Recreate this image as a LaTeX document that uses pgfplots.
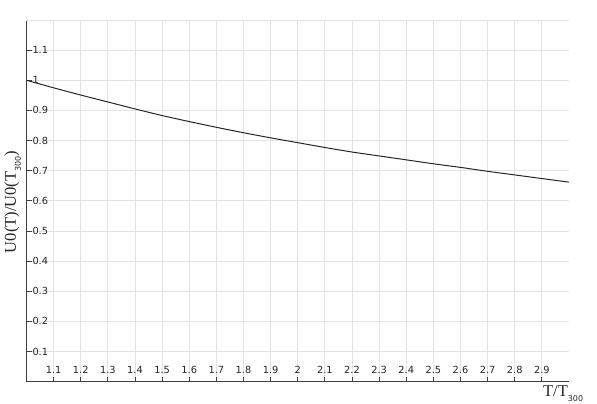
\documentclass[border=0pt]{standalone}
\usepackage{fontspec}
\setmainfont{Liberation Serif}
\newfontfamily\dejavu{DejaVu Sans}
\usepackage{pgfplots}
\pgfplotsset{compat=1.18}

\begin{document}
\begin{tikzpicture}
\begin{axis}[
    scale only axis,
    width=542.5pt, height=361.7pt,
    xmin=1, xmax=3, ymin=0, ymax=1.2,
    axis lines=left,
    axis line style={-, black!75, line width=0.8pt},
    tick align=inside,
    major tick length=5pt,
    tick style={black!75, line width=0.8pt},
    xtick={1.1,1.2,1.3,1.4,1.5,1.6,1.7,1.8,1.9,2,2.1,2.2,2.3,2.4,2.5,2.6,2.7,2.8,2.9},
    ytick={0.1,0.2,0.3,0.4,0.5,0.6,0.7,0.8,0.9,1,1.1},
    extra y ticks={1.2}, extra y tick labels={},
    extra y tick style={major tick length=0pt},
    grid=major,
    grid style={black!11, line width=0.8pt},
    /pgf/number format/assume math mode=true,
    ticklabel style={font=\dejavu\fontsize{9.8}{11}\selectfont, text=black!85},
    xticklabel style={anchor=base, inner sep=0pt, yshift=8.6pt},
    yticklabel style={anchor=west, inner sep=0pt, xshift=5.8pt},
    xlabel={T/T\raisebox{-5pt}{\dejavu\fontsize{8}{8}\selectfont 300}},
    ylabel={U0(T)/U0(T\raisebox{-5pt}{\dejavu\fontsize{8}{8}\selectfont 300})},
    label style={font=\fontsize{16.5}{18}\selectfont, text=black!85},
    xlabel style={at={(axis description cs:0.952,-0.0415)}, anchor=base west, inner sep=0pt},
    ylabel style={at={(axis description cs:-0.0194,0.497)}, anchor=base, rotate=0, inner sep=0pt},
]
\addplot[black!85, line width=1pt, smooth] coordinates {
(1.0,1.000) (1.1,0.975) (1.2,0.951) (1.3,0.928) (1.4,0.905) (1.5,0.883)
(1.6,0.863) (1.7,0.844) (1.8,0.826) (1.9,0.809) (2.0,0.793) (2.1,0.777)
(2.2,0.762) (2.3,0.749) (2.4,0.736) (2.5,0.723) (2.6,0.711) (2.7,0.698)
(2.8,0.686) (2.9,0.674) (3.0,0.662)
};
\end{axis}
\pgfresetboundingbox
\useasboundingbox (-26.5pt,-22.3pt) rectangle (570.5pt,381.7pt);
\end{tikzpicture}
\end{document}
